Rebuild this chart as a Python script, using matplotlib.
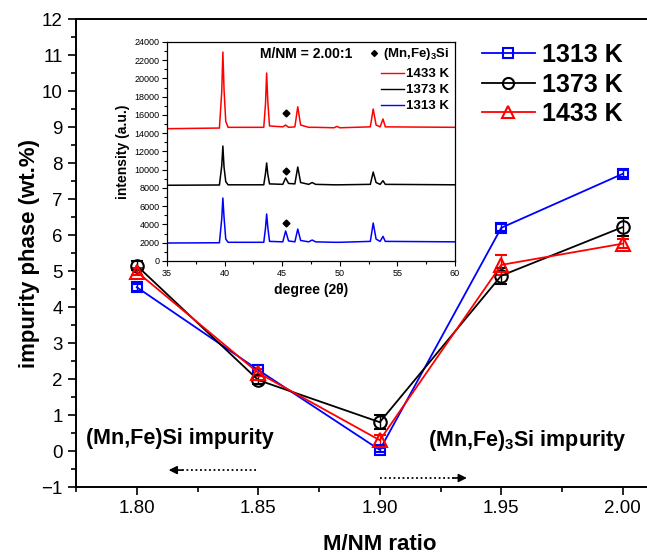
import matplotlib
matplotlib.use("Agg")
import matplotlib.pyplot as plt
from matplotlib.lines import Line2D
from matplotlib.ticker import MultipleLocator

plt.rcParams['font.family'] = ['Liberation Sans', 'DejaVu Sans']
plt.rcParams['mathtext.fontset'] = 'custom'
plt.rcParams['mathtext.rm'] = 'Liberation Sans:bold'
plt.rcParams['mathtext.it'] = 'Liberation Sans:bold'
plt.rcParams['mathtext.bf'] = 'Liberation Sans:bold'

# main data: impurity phase vs M/NM ratio
ratio = [1.80, 1.85, 1.90, 1.95, 2.00]
k1313 = [4.55, 2.25, 0.03, 6.20, 7.70]
k1373 = [5.15, 1.97, 0.80, 4.87, 6.22]
k1433 = [4.98, 2.17, 0.30, 5.17, 5.76]
err1313 = [0.10, 0.15, 0.05, 0.10, 0.10]
err1373 = [0.12, 0.10, 0.20, 0.22, 0.25]
err1433 = [0.10, 0.10, 0.15, 0.28, 0.12]

# inset XRD patterns (M/NM = 2.00:1)
two_theta = [35, 39.55, 39.75, 39.85, 39.95, 40.1, 40.3, 43.4, 43.55, 43.65,
             43.75, 43.9, 45.05, 45.3, 45.55, 46.1, 46.35, 46.6, 47.3, 47.6,
             47.9, 49.5, 49.75, 50.0, 52.65, 52.9, 53.15, 53.5, 53.75, 53.95, 60]
xrd1313 = [1970, 2000, 4600, 6900, 4800, 2400, 2050, 2050, 3600, 5150,
           3700, 2150, 2100, 3290, 2200, 2100, 3500, 2250, 2100, 2300,
           2100, 2050, 2050, 2050, 2150, 4160, 2400, 2150, 2700, 2150, 2100]
xrd1373 = [8300, 8330, 10400, 12600, 10300, 8700, 8350, 8350, 9600, 10740,
           9500, 8450, 8400, 9100, 8500, 8450, 10300, 8600, 8400, 8600,
           8400, 8350, 8350, 8350, 8400, 9750, 8600, 8400, 8800, 8400, 8350]
xrd1433 = [14500, 14570, 18500, 22900, 18800, 15300, 14650, 14650, 17200, 20600,
           17500, 14800, 14700, 14900, 14650, 14700, 16900, 14900, 14650, 14650,
           14650, 14600, 14750, 14600, 14700, 16660, 14900, 14700, 15560, 14700, 14650]
diamond_x = [45.3, 45.3, 45.3]
diamond_y = [4160, 9860, 16200]

fig = plt.figure(figsize=(6.47, 5.55), dpi=100)
ax = fig.add_axes([76/647, 68/555, 607.5/647, 468/555])

ax.errorbar(ratio, k1313, yerr=err1313, color='blue', marker='s', ms=7,
            mfc='none', mew=1.5, lw=1.3, capsize=4, elinewidth=1, label='1313 K')
ax.errorbar(ratio, k1373, yerr=err1373, color='black', marker='o', ms=9,
            mfc='none', mew=1.5, lw=1.3, capsize=4, elinewidth=1, label='1373 K')
ax.errorbar(ratio, k1433, yerr=err1433, color='red', marker='^', ms=10,
            mfc='none', mew=1.5, lw=1.3, capsize=4, elinewidth=1, label='1433 K')

ax.set_xlim(1.775, 2.025)
ax.set_ylim(-1, 12)
ax.set_xticks(ratio)
ax.set_xticklabels(['%.2f' % r for r in ratio])
ax.xaxis.set_minor_locator(MultipleLocator(0.025))
ax.yaxis.set_major_locator(MultipleLocator(1))
ax.yaxis.set_minor_locator(MultipleLocator(0.5))
ax.tick_params(which='both', direction='out', top=False, right=False,
               width=1.2, labelsize=13.5)
ax.tick_params(which='major', length=6)
ax.tick_params(which='minor', length=3.5)
for sp in ax.spines.values():
    sp.set_linewidth(1.4)
ax.set_xlabel('M/NM ratio', fontsize=16, fontweight='bold', labelpad=12)
ax.set_ylabel('impurity phase (wt.%)', fontsize=16, fontweight='bold', labelpad=1)

ax.text(1.779, 0.36, '(Mn,Fe)Si impurity', fontsize=15.5, fontweight='bold',
        va='center', ha='left')
ax.text(1.920, 0.30, '(Mn,Fe)$_3$Si impurity', fontsize=15.5, fontweight='bold',
        va='center', ha='left')
# dotted arrows
ax.plot([1.849, 1.818], [-0.53, -0.53], ls=(0, (1, 1.5)), color='black', lw=1.3)
ax.annotate('', xy=(1.812, -0.53), xytext=(1.820, -0.53),
            arrowprops=dict(arrowstyle='-|>', color='black', lw=1.2,
                            mutation_scale=12))
ax.plot([1.900, 1.931], [-0.75, -0.75], ls=(0, (1, 1.5)), color='black', lw=1.3)
ax.annotate('', xy=(1.937, -0.75), xytext=(1.929, -0.75),
            arrowprops=dict(arrowstyle='-|>', color='black', lw=1.2,
                            mutation_scale=12))

handles = [Line2D([], [], color='blue', marker='s', ms=7, mfc='none', mew=1.5, lw=1.3),
           Line2D([], [], color='black', marker='o', ms=8, mfc='none', mew=1.5, lw=1.3),
           Line2D([], [], color='red', marker='^', ms=9, mfc='none', mew=1.5, lw=1.3)]
fig.legend(handles, ['1313 K', '1373 K', '1433 K'], loc='upper left',
           bbox_to_anchor=(482/647, 1 - 43/555), frameon=False,
           prop={'weight': 'bold', 'size': 18}, handlelength=2.1,
           handletextpad=0.3, labelspacing=0.22, borderpad=0, borderaxespad=0)

# inset
axi = fig.add_axes([167/647, 294/555, 288/647, 219/555])
axi.plot(two_theta, xrd1433, color='red', lw=1.1)
axi.plot(two_theta, xrd1373, color='black', lw=1.1)
axi.plot(two_theta, xrd1313, color='blue', lw=1.1)
axi.plot(diamond_x, diamond_y, ls='none', marker='D', ms=3.5, color='black')
axi.set_xlim(35, 60)
axi.set_ylim(0, 24000)
axi.xaxis.set_major_locator(MultipleLocator(5))
axi.xaxis.set_minor_locator(MultipleLocator(2.5))
axi.yaxis.set_major_locator(MultipleLocator(2000))
axi.yaxis.set_minor_locator(MultipleLocator(1000))
axi.tick_params(which='both', direction='out', top=False, right=False,
                width=0.8, labelsize=6.5, pad=2)
axi.tick_params(which='major', length=3.5)
axi.tick_params(which='minor', length=2)
for sp in axi.spines.values():
    sp.set_linewidth(0.9)
axi.set_xlabel('degree (2\u03b8)', fontsize=10, fontweight='bold', labelpad=4)
axi.set_ylabel('intensity (a.u.)', fontsize=10, fontweight='bold', labelpad=3)
axi.text(43.1, 22700, 'M/NM = 2.00:1', fontsize=10, fontweight='bold',
         va='center', ha='left')

leg1 = axi.legend([Line2D([], [], ls='none', marker='D', ms=3, color='black')],
                  ['(Mn,Fe)$_3$Si'], loc='upper right', bbox_to_anchor=(0.979, 0.98),
                  frameon=False, prop={'weight': 'bold', 'size': 9.5},
                  handlelength=0.6, handletextpad=0.35, borderpad=0, borderaxespad=0)
axi.add_artist(leg1)
ih = [Line2D([], [], color='red', lw=1.0),
      Line2D([], [], color='black', lw=1.0),
      Line2D([], [], color='blue', lw=1.0)]
axi.legend(ih, ['1433 K', '1373 K', '1313 K'], loc='upper right',
           bbox_to_anchor=(0.979, 1 - 26/219), frameon=False,
           prop={'weight': 'bold', 'size': 9.5}, handlelength=1.75,
           handletextpad=0.15, labelspacing=0.29, borderpad=0, borderaxespad=0)

fig.savefig('out.png', dpi=100)
